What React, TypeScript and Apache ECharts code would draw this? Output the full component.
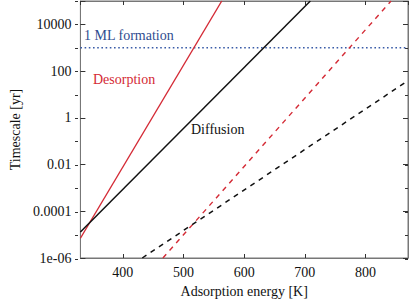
import React, { useEffect, useRef } from "react";
import * as echarts from "echarts";

// Adsorption energy [K] vs timescale [yr]
const desorption10K: [number, number][] = [[330, 7e-6], [563, 1e5]];
const diffusion10K: [number, number][] = [[330, 1.3e-5], [709, 1e5]];
const desorption15K: [number, number][] = [[466, 1e-6], [842, 1e5]];
const diffusion15K: [number, number][] = [[432, 1e-6], [870, 39]];
const mlFormation: [number, number][] = [[330, 1000], [870, 1000]];

const xRange = [330, 870];
const yRange = [1e-6, 1e5];

const FONT = "Liberation Serif";
const FS = 14;
const AXIS_GRAY = "#777777";
const RED = "#d42a35";
const BLACK = "#111111";
const BLUE = "#3a5ca8";

function yLabel(v: number): string {
  const e = Math.round(Math.log10(v));
  if (e % 2 !== 0) return "";
  if (e === -6) return "1e-06";
  if (e < 0) return v.toFixed(-e);
  return String(Math.pow(10, e));
}

export default function App() {
  const ref = useRef<HTMLDivElement>(null);
  useEffect(() => {
    if (!ref.current) return;
    const chart = echarts.init(ref.current, null, { renderer: "svg" });
    const gridRect = { left: 75, top: 1, right: 1, bottom: 44 };
    const baseX = {
      type: "value" as const,
      min: xRange[0],
      max: xRange[1],
      splitLine: { show: false },
      axisLine: { show: true, lineStyle: { color: AXIS_GRAY, width: 1 } },
      axisTick: { inside: true, length: 4, lineStyle: { color: "#333" } },
    };
    const baseY = {
      type: "log" as const,
      logBase: 10,
      min: yRange[0],
      max: yRange[1],
      splitLine: { show: false },
      axisLine: { show: true, lineStyle: { color: AXIS_GRAY, width: 1 } },
    };
    const lineSeries = (
      name: string,
      data: [number, number][],
      color: string,
      type: any,
      width = 1.4
    ) => ({
      name,
      type: "line" as const,
      data,
      xAxisIndex: 0,
      yAxisIndex: 0,
      showSymbol: false,
      symbol: "none",
      clip: true,
      lineStyle: { color, width, type },
    });
    chart.setOption({
      animation: false,
      backgroundColor: "#ffffff",
      grid: [
        { ...gridRect, show: true, borderColor: AXIS_GRAY, borderWidth: 1 },
        { ...gridRect, show: false },
      ],
      xAxis: [
        {
          ...baseX,
          gridIndex: 0,
          position: "bottom",
          name: "Adsorption energy [K]",
          nameLocation: "middle",
          nameGap: 26,
          nameTextStyle: { fontFamily: FONT, fontSize: FS, color: "#111" },
          axisLabel: {
            show: true,
            margin: 7,
            showMinLabel: false,
            showMaxLabel: false,
            fontFamily: FONT,
            fontSize: FS,
            color: "#111",
          },
        },
        {
          ...baseX,
          gridIndex: 0,
          position: "top",
          axisLabel: { show: false },
        },
        {
          ...baseX,
          gridIndex: 1,
          show: false,
        },
      ],
      yAxis: [
        {
          ...baseY,
          gridIndex: 0,
          position: "left",
          interval: 2,
          axisTick: { inside: true, length: 5, lineStyle: { color: "#333" } },
          name: "Timescale [yr]",
          nameLocation: "middle",
          nameGap: 57,
          nameTextStyle: { fontFamily: FONT, fontSize: FS, color: "#111" },
          axisLabel: {
            show: true,
            margin: 9,
            formatter: yLabel,
            fontFamily: FONT,
            fontSize: FS,
            color: "#111",
          },
        },
        {
          ...baseY,
          gridIndex: 0,
          position: "right",
          interval: 2,
          axisTick: { inside: true, length: 5, lineStyle: { color: "#333" } },
          axisLabel: { show: false },
        },
        {
          ...baseY,
          gridIndex: 1,
          position: "left",
          interval: 1,
          axisLine: { show: false },
          axisTick: { inside: true, length: 3, lineStyle: { color: "#333" } },
          axisLabel: { show: false },
        },
        {
          ...baseY,
          gridIndex: 1,
          position: "right",
          interval: 1,
          axisLine: { show: false },
          axisTick: { inside: true, length: 3, lineStyle: { color: "#333" } },
          axisLabel: { show: false },
        },
      ],
      series: [
        lineSeries("1 ML formation", mlFormation, BLUE, [1.6, 2.6], 1.6),
        lineSeries("Desorption 10 K", desorption10K, RED, "solid"),
        lineSeries("Diffusion 10 K", diffusion10K, BLACK, "solid", 1.5),
        lineSeries("Desorption 15 K", desorption15K, RED, [5, 5]),
        lineSeries("Diffusion 15 K", diffusion15K, BLACK, [5, 5], 1.5),
      ],
      graphic: [
        {
          type: "text",
          left: 84,
          top: 28,
          style: { text: "1 ML formation", fill: "#2f4d8f", font: `${FS}px "${FONT}"` },
        },
        {
          type: "text",
          left: 93,
          top: 72,
          style: { text: "Desorption", fill: RED, font: `${FS}px "${FONT}"` },
        },
        {
          type: "text",
          left: 191,
          top: 122,
          style: { text: "Diffusion", fill: "#111", font: `${FS}px "${FONT}"` },
        },
      ],
    });
    return () => chart.dispose();
  }, []);
  return (
    <div
      ref={ref}
      style={{ position: "fixed", left: 0, top: 0, width: 409, height: 303 }}
    />
  );
}
